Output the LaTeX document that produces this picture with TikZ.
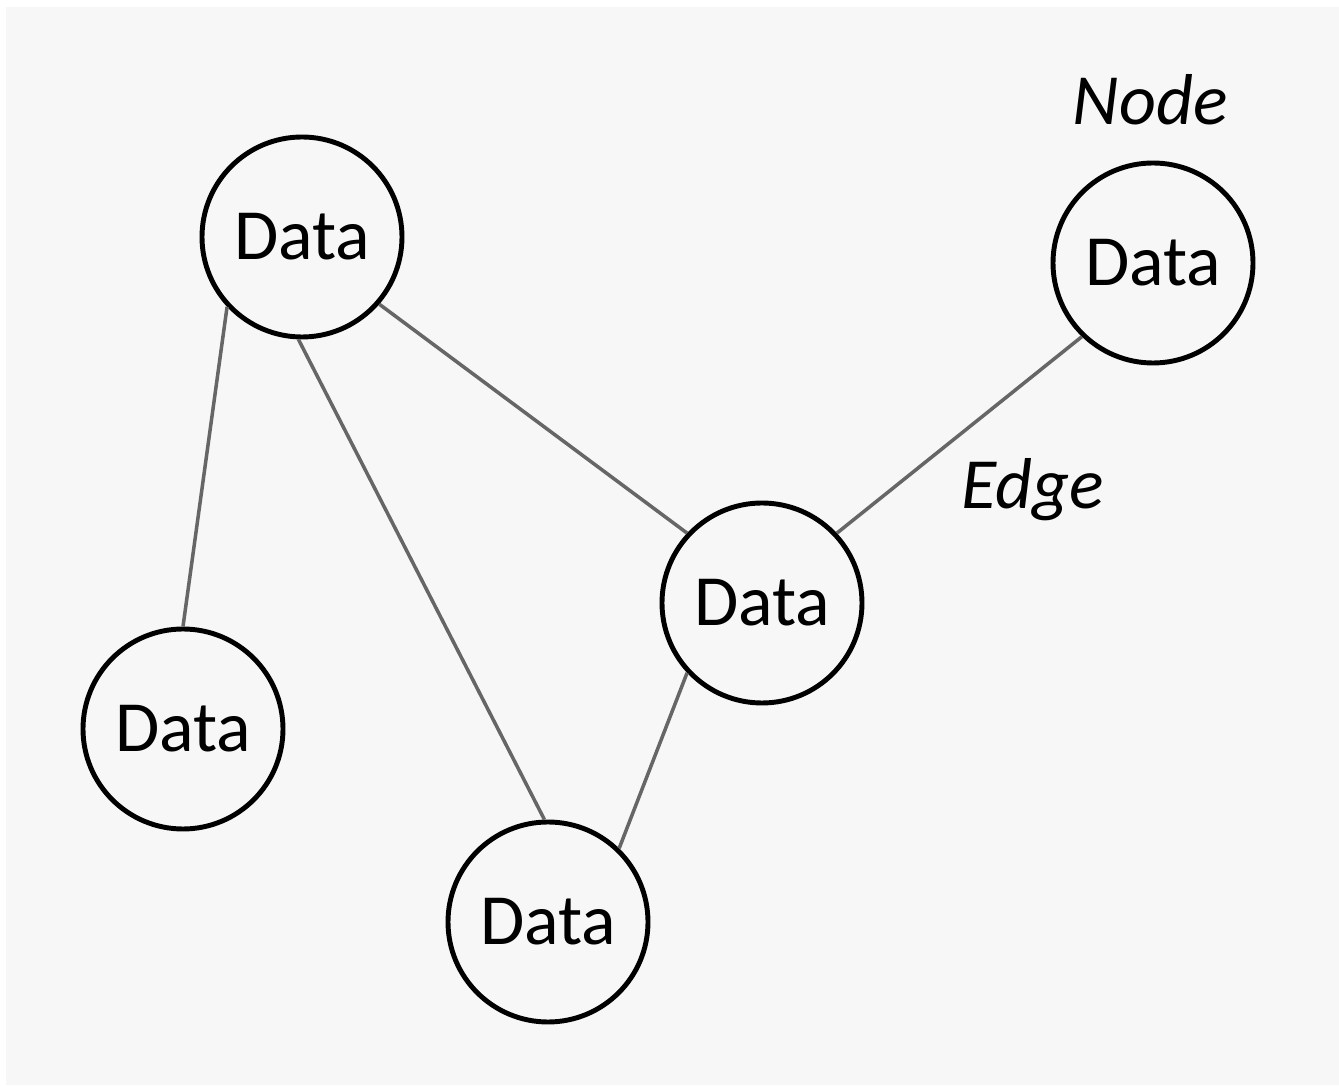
\documentclass[tikz,border=0pt]{standalone}
\usepackage{fontspec}
\setmainfont{Carlito}
\usepackage{xcolor}
\definecolor{bggray}{HTML}{F7F7F7}
\definecolor{edgegray}{HTML}{666666}

\begin{document}
\begin{tikzpicture}[-,thick,main node/.style={circle,draw,line width=1.4pt,minimum size=2cm,inner sep=0pt,font=\fontsize{20.5}{24}\selectfont},
                    tag/.style={font=\fontsize{20.5}{24}\selectfont\itshape},
                    edge line/.style={draw=edgegray,line width=1pt}]

                \fill[white] (0,0) rectangle (13.39,10.85);
                \fill[bggray] (0.06,0) rectangle (13.39,10.78);

                \node[main node]  (1) at (3.02,8.48) {Data};
                \node[main node]  (2) at (11.53,8.22) {Data};
                \node[main node]  (3) at (7.62,4.82) {Data};
                \node[main node]  (4) at (1.83,3.56) {Data};
                \node[main node]  (5) at (5.48,1.63) {Data};

                \node[tag] (nodelabel) at (11.50,9.85) {Node};
                \node[tag] (edgelabel) at (10.33,5.95) {Edge};

                \draw[edge line] (1.223) to (4.north);
                \draw[edge line] (1.319) to (3.137);
                \draw[edge line] (1.268) to (5.92);
                \draw[edge line] (3.223) to (5.46);
                \draw[edge line] (3.43) to (2.226);

            \end{tikzpicture}
\end{document}
